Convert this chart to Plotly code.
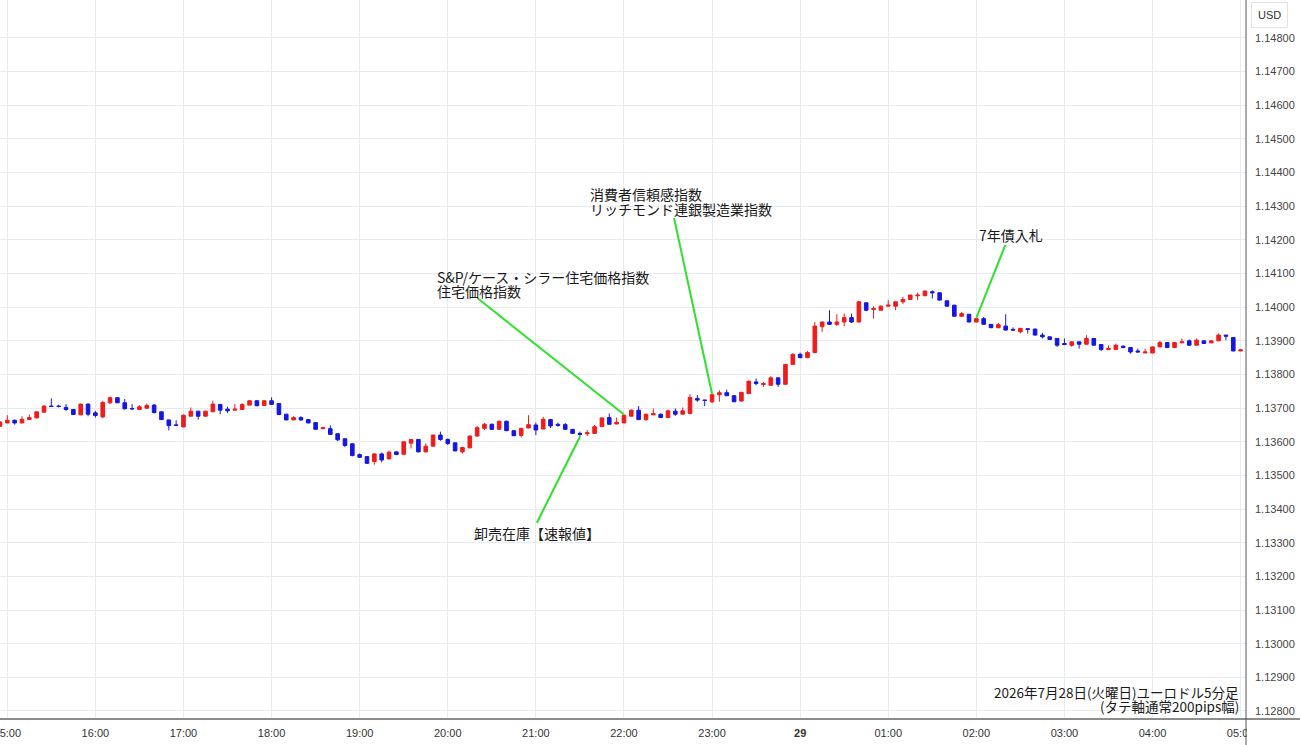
import plotly.graph_objects as go
import pandas as pd

# 5-minute EUR/USD candles, 2026-07-28 14:55 -> 2026-07-29 05:00
opens = [1.13646,1.13656,1.13664,1.13656,1.13666,1.13671,1.13688,1.13706,1.13706,1.13702,
 1.13696,1.13680,1.13712,1.13686,1.13674,1.13716,1.13731,1.13716,1.13699,1.13696,
 1.13700,1.13709,1.13689,1.13665,1.13650,1.13644,1.13676,1.13691,1.13676,1.13689,
 1.13711,1.13697,1.13694,1.13696,1.13709,1.13722,1.13708,1.13722,1.13714,1.13682,
 1.13665,1.13672,1.13666,1.13657,1.13639,1.13639,1.13624,1.13609,1.13594,1.13562,
 1.13556,1.13541,1.13564,1.13549,1.13570,1.13563,1.13596,1.13607,1.13570,1.13587,
 1.13620,1.13607,1.13597,1.13570,1.13582,1.13617,1.13640,1.13652,1.13637,1.13661,
 1.13633,1.13619,1.13641,1.13650,1.13638,1.13666,1.13652,1.13651,1.13637,1.13625,
 1.13624,1.13625,1.13645,1.13672,1.13653,1.13656,1.13676,1.13694,1.13666,1.13680,
 1.13682,1.13672,1.13691,1.13682,1.13684,1.13729,1.13724,1.13719,1.13740,1.13746,
 1.13737,1.13721,1.13743,1.13778,1.13770,1.13768,1.13790,1.13771,1.13830,1.13860,
 1.13850,1.13865,1.13942,1.13956,1.13949,1.13956,1.13969,1.13956,1.14013,1.13993,
 1.13991,1.14003,1.14003,1.14016,1.14023,1.14034,1.14034,1.14046,1.14043,1.14019,
 1.14006,1.13973,1.13979,1.13956,1.13966,1.13949,1.13939,1.13944,1.13934,1.13927,
 1.13936,1.13935,1.13917,1.13912,1.13907,1.13892,1.13887,1.13897,1.13890,1.13907,
 1.13889,1.13874,1.13874,1.13884,1.13880,1.13870,1.13864,1.13864,1.13882,1.13895,
 1.13880,1.13894,1.13900,1.13887,1.13900,1.13894,1.13900,1.13917,1.13910,1.13870]
highs = [1.13660,1.13679,1.13666,1.13676,1.13681,1.13690,1.13709,1.13729,1.13710,1.13712,
 1.13697,1.13713,1.13714,1.13692,1.13722,1.13734,1.13732,1.13727,1.13712,1.13709,
 1.13714,1.13712,1.13690,1.13666,1.13664,1.13681,1.13702,1.13691,1.13692,1.13722,
 1.13712,1.13704,1.13712,1.13714,1.13723,1.13724,1.13723,1.13732,1.13715,1.13683,
 1.13676,1.13676,1.13667,1.13658,1.13645,1.13649,1.13625,1.13610,1.13595,1.13565,
 1.13557,1.13566,1.13568,1.13574,1.13572,1.13601,1.13608,1.13608,1.13595,1.13621,
 1.13630,1.13610,1.13598,1.13585,1.13619,1.13647,1.13656,1.13654,1.13663,1.13663,
 1.13634,1.13641,1.13679,1.13657,1.13674,1.13667,1.13657,1.13656,1.13638,1.13630,
 1.13635,1.13650,1.13672,1.13684,1.13672,1.13681,1.13696,1.13706,1.13683,1.13699,
 1.13684,1.13696,1.13699,1.13702,1.13742,1.13739,1.13725,1.13742,1.13753,1.13755,
 1.13738,1.13748,1.13782,1.13788,1.13778,1.13795,1.13791,1.13831,1.13863,1.13865,
 1.13870,1.13956,1.13957,1.13991,1.13979,1.13981,1.13981,1.14018,1.14014,1.14003,
 1.14005,1.14021,1.14017,1.14031,1.14037,1.14043,1.14049,1.14050,1.14044,1.14020,
 1.14007,1.13986,1.13980,1.13968,1.13971,1.13950,1.13953,1.13979,1.13940,1.13938,
 1.13937,1.13936,1.13924,1.13913,1.13908,1.13907,1.13898,1.13898,1.13917,1.13908,
 1.13890,1.13887,1.13892,1.13887,1.13881,1.13877,1.13877,1.13883,1.13900,1.13896,
 1.13896,1.13907,1.13904,1.13907,1.13901,1.13901,1.13922,1.13918,1.13911,1.13875]
lows = [1.13645,1.13655,1.13651,1.13655,1.13665,1.13670,1.13687,1.13705,1.13702,1.13692,
 1.13680,1.13679,1.13676,1.13672,1.13670,1.13712,1.13715,1.13696,1.13694,1.13696,
 1.13698,1.13684,1.13665,1.13634,1.13646,1.13644,1.13676,1.13666,1.13676,1.13689,
 1.13682,1.13686,1.13694,1.13696,1.13709,1.13706,1.13708,1.13710,1.13679,1.13664,
 1.13665,1.13662,1.13655,1.13636,1.13638,1.13621,1.13602,1.13584,1.13557,1.13552,
 1.13535,1.13532,1.13539,1.13549,1.13561,1.13562,1.13580,1.13569,1.13569,1.13586,
 1.13603,1.13590,1.13572,1.13565,1.13581,1.13616,1.13635,1.13636,1.13636,1.13632,
 1.13617,1.13613,1.13640,1.13620,1.13637,1.13641,1.13645,1.13635,1.13624,1.13615,
 1.13617,1.13624,1.13644,1.13651,1.13652,1.13655,1.13676,1.13665,1.13662,1.13680,
 1.13671,1.13671,1.13677,1.13682,1.13682,1.13719,1.13706,1.13714,1.13719,1.13736,
 1.13718,1.13720,1.13742,1.13768,1.13763,1.13767,1.13763,1.13770,1.13828,1.13848,
 1.13849,1.13864,1.13927,1.13948,1.13944,1.13944,1.13953,1.13955,1.13988,1.13966,
 1.13990,1.14003,1.13991,1.14009,1.14022,1.14021,1.14033,1.14026,1.14020,1.14002,
 1.13972,1.13972,1.13955,1.13955,1.13948,1.13938,1.13938,1.13931,1.13931,1.13922,
 1.13922,1.13916,1.13907,1.13903,1.13882,1.13888,1.13882,1.13877,1.13889,1.13886,
 1.13870,1.13874,1.13873,1.13878,1.13862,1.13866,1.13864,1.13863,1.13881,1.13879,
 1.13879,1.13894,1.13886,1.13886,1.13891,1.13893,1.13899,1.13902,1.13869,1.13869]
closes = [1.13659,1.13664,1.13656,1.13667,1.13672,1.13689,1.13706,1.13705,1.13705,1.13696,
 1.13681,1.13712,1.13682,1.13678,1.13717,1.13731,1.13716,1.13698,1.13698,1.13704,
 1.13708,1.13687,1.13666,1.13648,1.13649,1.13679,1.13691,1.13676,1.13691,1.13712,
 1.13694,1.13692,1.13697,1.13711,1.13722,1.13707,1.13722,1.13711,1.13681,1.13665,
 1.13672,1.13665,1.13656,1.13637,1.13642,1.13622,1.13606,1.13589,1.13559,1.13554,
 1.13536,1.13564,1.13546,1.13569,1.13562,1.13600,1.13607,1.13570,1.13587,1.13620,
 1.13607,1.13595,1.13573,1.13583,1.13617,1.13642,1.13652,1.13637,1.13661,1.13633,
 1.13618,1.13640,1.13651,1.13635,1.13667,1.13647,1.13649,1.13637,1.13625,1.13622,
 1.13627,1.13645,1.13671,1.13652,1.13658,1.13679,1.13694,1.13666,1.13682,1.13684,
 1.13672,1.13692,1.13682,1.13692,1.13732,1.13724,1.13723,1.13740,1.13746,1.13737,
 1.13719,1.13747,1.13780,1.13773,1.13773,1.13790,1.13771,1.13830,1.13860,1.13850,
 1.13865,1.13944,1.13956,1.13949,1.13956,1.13969,1.13956,1.14016,1.13991,1.13996,
 1.14003,1.14006,1.14016,1.14023,1.14036,1.14036,1.14048,1.14043,1.14021,1.14003,
 1.13973,1.13981,1.13956,1.13966,1.13949,1.13939,1.13948,1.13932,1.13932,1.13937,
 1.13934,1.13917,1.13912,1.13904,1.13887,1.13889,1.13897,1.13890,1.13907,1.13887,
 1.13874,1.13877,1.13887,1.13880,1.13867,1.13867,1.13867,1.13882,1.13895,1.13880,
 1.13895,1.13897,1.13887,1.13902,1.13892,1.13900,1.13917,1.13914,1.13870,1.13873]

times = pd.date_range("2026-07-28 14:55", periods=len(opens), freq="5min")

tick_times = pd.date_range("2026-07-28 15:00", "2026-07-29 05:00", freq="1h")
tick_labels = ["15:00", "16:00", "17:00", "18:00", "19:00", "20:00", "21:00", "22:00",
               "23:00", "<b>29</b>", "01:00", "02:00", "03:00", "04:00", "05:00"]
price_ticks = [1.128, 1.129, 1.130, 1.131, 1.132, 1.133, 1.134, 1.135, 1.136, 1.137,
               1.138, 1.139, 1.140, 1.141, 1.142, 1.143, 1.144, 1.145, 1.146, 1.147, 1.148]
price_tick_labels = ["1.12800", "1.12900", "1.13000", "1.13100", "1.13200", "1.13300",
                     "1.13400", "1.13500", "1.13600", "1.13700", "1.13800", "1.13900",
                     "1.14000", "1.14100", "1.14200", "1.14300", "1.14400", "1.14500",
                     "1.14600", "1.14700", "1.14800"]

# events: candle index, which extreme the pointer touches, label lines
event_index = [85, 97, 133, 79]
event_side = ["high", "high", "high", "low"]
event_lines = [["S&P/ケース・シラー住宅価格指数", "住宅価格指数"],
               ["消費者信頼感指数", "リッチモンド連銀製造業指数"],
               ["7年債入札"],
               ["卸売在庫【速報値】"]]

UP = "#ee1c1c"
DOWN = "#1616e4"
GREEN = "#2fe02f"
GRID = "#e6ebf2"
JP = "Noto Sans CJK JP"
W, H = 1300, 745
ML, MR, MT, MB = 0, 54, 0, 26
PW, PH = W - ML - MR, H - MT - MB

fig = go.Figure(go.Candlestick(
    x=times, open=opens, high=highs, low=lows, close=closes,
    increasing=dict(line=dict(color=UP, width=1), fillcolor=UP),
    decreasing=dict(line=dict(color=DOWN, width=1), fillcolor=DOWN),
    whiskerwidth=0, hoverinfo="skip", showlegend=False,
))

# pointer lines (anchored at candle, tail offset in pixels; +y is up)
tails = [(-146, 116), (-38, 176), (29, 73), (-43, -86)]
shapes = []
for idx, side, (dx, dy) in zip(event_index, event_side, tails):
    yv = highs[idx] if side == "high" else lows[idx]
    shapes.append(dict(type="line", xref="x", yref="y", xsizemode="pixel", ysizemode="pixel",
                       xanchor=str(times[idx]), yanchor=yv, x0=0, y0=0, x1=dx, y1=dy,
                       line=dict(color=GREEN, width=2), layer="above"))

# frame lines
shapes.append(dict(type="line", xref="paper", yref="paper", x0=0, x1=W / PW, y0=0, y1=0,
                   line=dict(color="#8c8c8c", width=2), layer="above"))
shapes.append(dict(type="rect", xref="paper", yref="paper", x0=1.0008, x1=W / PW,
                   y0=-0.002, y1=-MB / PH, fillcolor="white", line=dict(width=0), layer="above"))
shapes.append(dict(type="line", xref="paper", yref="paper", x0=1.0, x1=1.0, y0=-MB / PH, y1=1,
                   line=dict(color="#555555", width=1), layer="above"))

def px(x):
    return x / PW

def py(y):
    return 1 - y / PH

annotations = []
text_pos = [[(435, 276.5), (435, 291)], [(588, 194.5), (588, 209)], [(977, 235)], [(472, 533)]]
for lines, poss in zip(event_lines, text_pos):
    for t, (x, y) in zip(lines, poss):
        annotations.append(dict(text=t, xref="paper", yref="paper", x=px(x), y=py(y),
                                xanchor="left", yanchor="middle", showarrow=False,
                                font=dict(family=JP, size=14, color="#1a1a1a")))

annotations.append(dict(text="2026年7月28日(火曜日)ユーロドル5分足", xref="paper", yref="paper",
                        x=px(1241), y=py(691.5), xanchor="right", yanchor="middle", showarrow=False,
                        font=dict(family=JP, size=13.5, color="#1a1a1a")))
annotations.append(dict(text="(タテ軸通常200pips幅)", xref="paper", yref="paper",
                        x=px(1241), y=py(706), xanchor="right", yanchor="middle", showarrow=False,
                        font=dict(family=JP, size=13.5, color="#1a1a1a")))
annotations.append(dict(text="USD", xref="paper", yref="paper", x=px(1269), y=py(15),
                        xanchor="center", yanchor="middle", showarrow=False,
                        bordercolor="#e3e3e3", borderwidth=1, borderpad=6, bgcolor="white",
                        font=dict(family="Liberation Sans", size=11, color="#333333")))

fig.update_layout(
    width=W, height=H,
    margin=dict(l=ML, r=MR, t=MT, b=MB, pad=0, autoexpand=False),
    paper_bgcolor="white", plot_bgcolor="white",
    shapes=shapes, annotations=annotations,
    xaxis=dict(type="date", range=["2026-07-28 14:55:02", "2026-07-29 05:03:40"],
               rangeslider=dict(visible=False), tickvals=list(tick_times), ticktext=tick_labels,
               showgrid=True, gridcolor=GRID, gridwidth=1, zeroline=False, showline=False,
               ticks="", ticklabelstandoff=6, automargin=False, ticklabeloverflow="allow",
               tickfont=dict(family="Liberation Sans", size=11, color="#333333")),
    yaxis=dict(side="right", range=[1.127762, 1.149129], tickvals=price_ticks,
               ticktext=price_tick_labels, showgrid=True, gridcolor=GRID, gridwidth=1,
               zeroline=False, showline=False, ticks="", ticklabelstandoff=8, automargin=False,
               ticklabeloverflow="allow",
               tickfont=dict(family="Liberation Sans", size=11, color="#444444")),
    hovermode=False,
)

fig.write_html("out.html", config={"displayModeBar": False},
               post_script="document.body.style.margin='0';document.body.style.overflow='hidden';")
